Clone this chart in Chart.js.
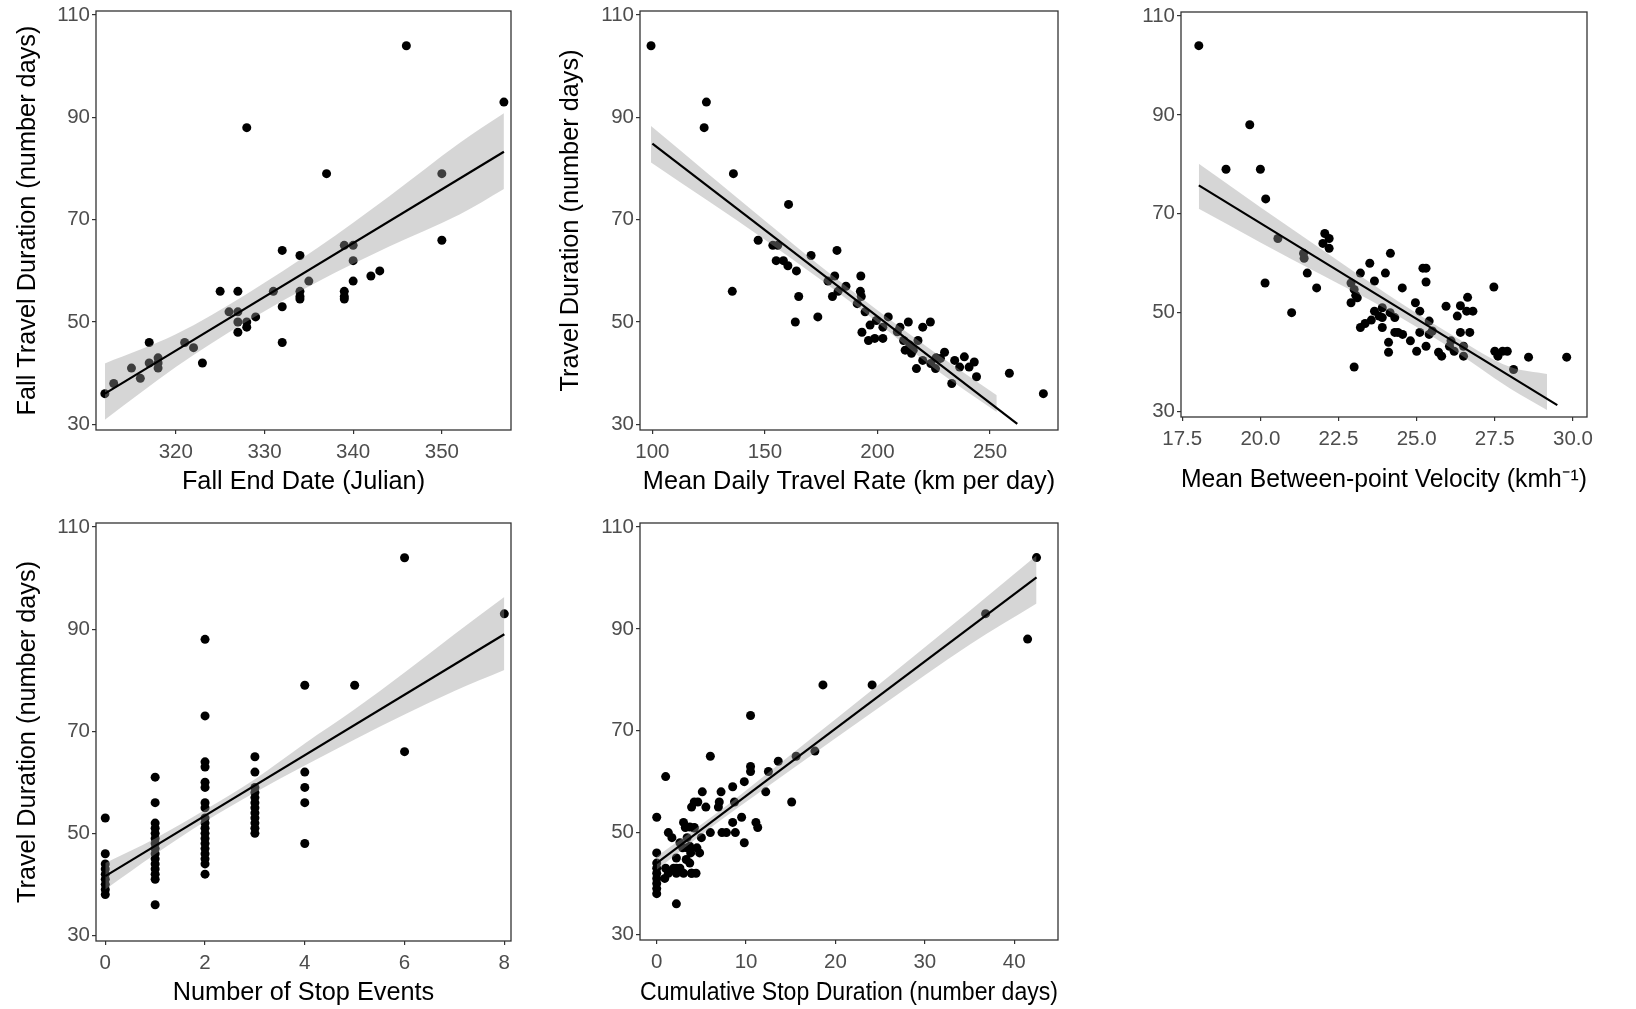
<!DOCTYPE html>
<html>
<head>
<meta charset="utf-8">
<title>Travel duration</title>
<script src="https://cdn.jsdelivr.net/npm/chart.js@4.4.1/dist/chart.umd.min.js"></script>
<style>
    body { margin: 0; background: #ffffff; }
    #wrap { position: relative; width: 1636px; height: 1009px; background: #ffffff; }
    canvas { position: absolute; }
</style>
</head>
<body>
<div id="wrap">
    <canvas id="c1" width="540" height="500" style="left:0px;top:0px"></canvas>
    <canvas id="c2" width="540" height="500" style="left:540px;top:0px"></canvas>
    <canvas id="c3" width="556" height="500" style="left:1080px;top:0px"></canvas>
    <canvas id="c4" width="540" height="509" style="left:0px;top:500px"></canvas>
    <canvas id="c5" width="540" height="509" style="left:540px;top:500px"></canvas>
</div>
<script>
// shared y axis
const durationTicks = [30, 50, 70, 90, 110];

// fall end date (julian) vs fall travel duration
const endDate = [312, 313, 315, 316, 317, 317, 318, 318, 318, 321,
    322, 323, 325, 326, 327, 327, 327, 327, 328, 328,
    328, 329, 331, 332, 332, 332, 334, 334, 334, 334,
    335, 337, 339, 339, 339, 339, 340, 340, 340, 342,
    343, 346, 350, 350, 357];
const endDateDays = [36, 38, 41, 39, 46, 42, 43, 42, 41, 46,
    45, 42, 56, 52, 56, 52, 50, 48, 88, 50,
    49, 51, 56, 64, 53, 46, 63, 56, 55, 54.5,
    58, 79, 65, 56, 55, 54.5, 65, 62, 58, 59,
    60, 104, 79, 66, 93];
const endDateFitX = [312, 357];
const endDateFitY = [36.0, 83.3];
const endDateBandX = [312, 320, 328, 336, 344, 352, 357];
const endDateBandHi = [41.9, 47.6, 55.5, 64.5, 74.5, 85.0, 90.8];
const endDateBandLo = [30.9, 41.2, 50.1, 57.9, 64.7, 71.0, 76.0];
const endDateTicks = [320, 330, 340, 350];

// mean daily travel rate
const travelRate = [99.4, 124, 123, 136, 135.5, 147, 153.5, 155.7, 155, 158.2,
    160.5, 160.2, 164, 165, 163.5, 170.5, 173.5, 182, 178, 181,
    180, 182.5, 186, 192.6, 192.4, 192.8, 191, 194.5, 196.7, 199.5,
    202.4, 204.8, 193.1, 196, 198.8, 202.4, 208.8, 213.7, 211.6, 212.3,
    214.4, 215.9, 218, 215.1, 220.1, 223.5, 217.3, 220.1, 223.7, 225.8,
    229.8, 228, 234.3, 238.6, 236.5, 240.7, 243, 244, 233, 258.6,
    273.7, 210, 226];
const travelRateDays = [104, 93, 88, 79, 56, 66, 65, 65, 62, 62,
    73, 61, 60, 55, 50, 63, 51, 64, 58, 59,
    55, 56, 57, 59, 56, 55, 53.6, 52, 49.4, 50.3,
    49, 51, 48, 46.4, 46.8, 46.8, 48.1, 50, 46.4, 44.5,
    45.5, 44.5, 46.4, 43.9, 49, 50, 40.9, 42.5, 41.9, 40.9,
    44.1, 42.9, 42.5, 43.2, 41.2, 41.2, 42.2, 39.3, 38, 40,
    36, 49, 43];
const travelRateFitX = [100, 262.1];
const travelRateFitY = [84.9, 30.1];
const travelRateBandX = [99.4, 125, 150, 175, 200, 225, 253];
const travelRateBandHi = [88.3, 78.9, 69.8, 60.8, 52.3, 44.2, 35.7];
const travelRateBandLo = [81.2, 73.6, 66.1, 58.2, 49.9, 41.0, 32.4];
const travelRateTicks = [100, 150, 200, 250];

// mean between-point velocity
const velocity = [18.03, 18.9, 19.66, 20.0, 20.17, 20.15, 20.56, 21.0, 21.38, 21.4,
    21.5, 21.8, 22.06, 22.0, 22.2, 22.2, 22.9, 22.9, 23.0, 23.05,
    23.1, 23.2, 23.0, 23.2, 23.35, 23.5, 23.55, 23.65, 23.65, 23.8,
    23.9, 23.9, 24.0, 23.9, 24.1, 24.1, 24.16, 24.15, 24.3, 24.3,
    24.4, 24.55, 24.54, 24.8, 24.96, 25.1, 25.0, 25.1, 25.2, 25.3,
    25.3, 25.3, 25.4, 25.4, 25.5, 25.7, 25.8, 25.94, 26.05, 26.1,
    26.2, 26.3, 26.4, 26.4, 26.5, 26.5, 26.63, 26.6, 26.7, 26.8,
    27.47, 27.5, 27.6, 27.75, 27.9, 28.1, 28.58, 29.8];
const velocityDays = [104, 79, 88, 79, 73, 56, 65, 50, 62, 61,
    58, 55, 66, 64, 65, 63, 56, 52, 54.7, 53.5,
    53, 58, 39, 47, 47.8, 60, 48.5, 56.4, 50.3, 49.3,
    47, 49, 58, 51, 44, 42, 62, 50, 49, 46,
    46, 45.6, 55, 44.3, 52, 50.3, 42.2, 46, 59, 59,
    56.2, 43.2, 45.6, 48.3, 46.3, 42, 41.2, 51.3, 43.2, 44.3,
    42.2, 49.3, 51.4, 46, 43.2, 41.2, 53.1, 50.3, 46, 50.3,
    55.2, 42.2, 41.2, 42.2, 42.2, 38.5, 41, 41];
const velocityFitX = [18.03, 29.5];
const velocityFitY = [75.75, 31.3];
const velocityBandX = [18.03, 20, 22, 24, 26, 28, 29.17];
const velocityBandHi = [80.1, 71.3, 62.6, 54.0, 46.0, 39.0, 37.6];
const velocityBandLo = [71.0, 64.2, 57.5, 50.8, 43.2, 34.6, 30.3];
const velocityTicks = [17.5, 20, 22.5, 25, 27.5, 30];
const velocityLabels = ["17.5", "20.0", "22.5", "25.0", "27.5", "30.0"];

// number of stop events
const stopEvents = [0, 0, 0, 0, 0, 0, 0, 0, 0,
    1, 1, 1, 1, 1, 1, 1, 1, 1, 1, 1, 1, 1, 1, 1,
    2, 2, 2, 2, 2, 2, 2, 2, 2, 2, 2, 2, 2, 2, 2, 2, 2, 2, 2,
    3, 3, 3, 3, 3, 3, 3, 3, 3, 3, 3, 3,
    4, 4, 4, 4, 4,
    5,
    6, 6,
    8];
const stopEventsDays = [53, 46, 44, 43, 42, 41, 40, 39, 38,
    61, 56, 52, 51, 50, 49, 48, 47, 46, 45, 44, 43, 42, 41, 36,
    88, 73, 64, 63, 60, 59, 56, 55, 53, 52, 51, 50, 49, 48, 47, 46, 45, 44, 42,
    65, 62, 59, 58, 57, 56, 55, 54, 53, 52, 51, 50,
    79, 62, 59, 56, 48,
    79,
    104, 66,
    93];
const stopEventsFitX = [0, 8];
const stopEventsFitY = [41.6, 89.0];
const stopEventsBandX = [0, 1, 2, 3, 4, 5, 6, 7, 8];
const stopEventsBandHi = [44.2, 49.0, 54.6, 60.6, 67.6, 74.3, 81.5, 89.0, 96.3];
const stopEventsBandLo = [39.0, 45.9, 52.3, 58.0, 63.3, 68.4, 73.3, 77.9, 82.0];
const stopEventsTicks = [0, 2, 4, 6, 8];

// cumulative stop duration
const stopDuration = [42.5, 41.5, 36.8, 24.1, 18.6, 17.7, 15.6, 15.1, 13.6, 12.5,
    12.2, 10.5, 10.5, 10.5, 11.1, 11.3, 9.8, 9.5, 9.8, 8.5,
    8.7, 8.5, 8.8, 7.8, 7.3, 7.2, 7.0, 6.9, 6.0, 6.0,
    5.1, 5.5, 5.0, 4.8, 4.5, 4.2, 3.9, 4.2, 3.9, 3.7,
    3.8, 3.4, 3.4, 3.0, 3.2, 3.0, 2.6, 2.2, 2.2, 1.9,
    1.7, 1.3, 1.0, 1.3, 0.9, 0, 0, 0, 0, 0,
    0, 0, 0, 0, 1.0, 2.2, 2.2, 3.9, 4.4, 3.7,
    4.2, 2.6, 2.9, 3.3, 3.7, 4.6];
const stopDurationDays = [104, 88, 93, 79, 79, 66, 65, 56, 64, 62,
    58, 73, 63, 62, 52, 51, 60, 53, 48, 59,
    56, 52, 50, 50, 50, 58, 56, 55, 50, 65,
    58, 55, 49, 46, 47, 56, 55, 51, 42, 44,
    46, 47, 49, 52, 51, 42, 43, 36, 45, 43,
    49, 50, 61, 42, 41, 53, 46, 44, 43, 42,
    41, 40, 39, 38, 43, 43, 42, 42, 42, 51.1,
    50.9, 48, 47, 44.7, 47.3, 56];
const stopDurationFitX = [0, 42.5];
const stopDurationFitY = [44.0, 100.1];
const stopDurationBandX = [0, 7, 15, 25, 35, 42.5];
const stopDurationBandHi = [45.3, 54.2, 65.3, 79.3, 93.5, 104.4];
const stopDurationBandLo = [42.7, 52.2, 62.3, 74.7, 86.9, 95.0];
const stopDurationTicks = [0, 10, 20, 30, 40];

Chart.defaults.font.family = "\"Liberation Sans\", Arial, sans-serif";

function toPoints(xs, ys) {
    return xs.map((x, i) => ({x: x, y: ys[i]}));
}

// dark frame round each plotting area
const panelFrame = {
    id: "panelFrame",
    afterDatasetsDraw(chart) {
        const a = chart.chartArea;
        const ctx = chart.ctx;
        ctx.save();
        ctx.strokeStyle = "#333333";
        ctx.lineWidth = 1.3;
        ctx.strokeRect(a.left, a.top, a.right - a.left, a.bottom - a.top);
        ctx.restore();
    }
};

const panels = [
    {canvas: "c1", x: endDate, y: endDateDays, fitX: endDateFitX, fitY: endDateFitY,
        bandX: endDateBandX, bandHi: endDateBandHi, bandLo: endDateBandLo,
        xTicks: endDateTicks, xLabels: endDateTicks.map(String), xMin: 311.0, xMax: 357.8,
        xTitle: "Fall End Date (Julian)", yTitle: "Fall Travel Duration (number days)",
        yWidth: 96, xHeight: 70, padTop: 11, padRight: 29, xTitlePad: 2.8, yTitlePad: 13},
    {canvas: "c2", x: travelRate, y: travelRateDays, fitX: travelRateFitX, fitY: travelRateFitY,
        bandX: travelRateBandX, bandHi: travelRateBandHi, bandLo: travelRateBandLo,
        xTicks: travelRateTicks, xLabels: travelRateTicks.map(String), xMin: 94.5, xMax: 280.2,
        xTitle: "Mean Daily Travel Rate (km per day)", yTitle: "Travel Duration (number days)",
        yWidth: 100, xHeight: 70, padTop: 11, padRight: 22, xTitlePad: 2.8, yTitlePad: 15.6},
    {canvas: "c3", x: velocity, y: velocityDays, fitX: velocityFitX, fitY: velocityFitY,
        bandX: velocityBandX, bandHi: velocityBandHi, bandLo: velocityBandLo,
        xTicks: velocityTicks, xLabels: velocityLabels, xMin: 17.46, xMax: 30.45,
        xTitle: "Mean Between-point Velocity (kmh\u207B\u00B9)", yTitle: "",
        yWidth: 101, xHeight: 83, padTop: 12, padRight: 49, xTitlePad: 4.8, yTitlePad: 13},
    {canvas: "c4", x: stopEvents, y: stopEventsDays, fitX: stopEventsFitX, fitY: stopEventsFitY,
        bandX: stopEventsBandX, bandHi: stopEventsBandHi, bandLo: stopEventsBandLo,
        xTicks: stopEventsTicks, xLabels: stopEventsTicks.map(String), xMin: -0.186, xMax: 8.134,
        xTitle: "Number of Stop Events", yTitle: "Travel Duration (number days)",
        yWidth: 96, xHeight: 68, padTop: 23, padRight: 29, xTitlePad: 1.1, yTitlePad: 13},
    {canvas: "c5", x: stopDuration, y: stopDurationDays, fitX: stopDurationFitX, fitY: stopDurationFitY,
        bandX: stopDurationBandX, bandHi: stopDurationBandHi, bandLo: stopDurationBandLo,
        xTicks: stopDurationTicks, xLabels: stopDurationTicks.map(String), xMin: -1.87, xMax: 44.9,
        xTitle: "Cumulative Stop Duration (number days)", yTitle: "",
        yWidth: 100, xHeight: 69, padTop: 23, padRight: 22, xTitlePad: 1.1, yTitlePad: 13}
];

function initPanel(p) {
    const ctx = document.getElementById(p.canvas).getContext("2d");
    return new Chart(ctx, {
        type: "line",
        data: {
            datasets: [{
                // fitted line, drawn on top
                data: toPoints(p.fitX, p.fitY),
                borderColor: "#000000",
                borderWidth: 2.2,
                pointRadius: 0,
                fill: false
            },
            {
                data: toPoints(p.bandX, p.bandHi),
                borderColor: "rgba(0,0,0,0)",
                pointRadius: 0,
                cubicInterpolationMode: "monotone",
                backgroundColor: "rgba(153,153,153,0.4)",
                fill: "+1"
            },
            {
                data: toPoints(p.bandX, p.bandLo),
                borderColor: "rgba(0,0,0,0)",
                pointRadius: 0,
                cubicInterpolationMode: "monotone",
                fill: false
            },
            {
                data: toPoints(p.x, p.y),
                showLine: false,
                pointRadius: 4.5,
                pointBackgroundColor: "#000000",
                pointBorderWidth: 0
            }]
        },
        options: {
            responsive: false,
            animation: false,
            events: [],
            layout: {
                padding: {top: p.padTop, right: p.padRight, left: 0, bottom: 0}
            },
            plugins: {
                legend: {display: false},
                tooltip: {enabled: false}
            },
            scales: {
                x: {
                    type: "linear",
                    min: p.xMin,
                    max: p.xMax,
                    afterBuildTicks: (s) => { s.ticks = p.xTicks.map(v => ({value: v})); },
                    afterFit: (s) => {
                        s.height = p.xHeight;
                        s.paddingLeft = 0;
                        s.paddingRight = 0;
                    },
                    grid: {drawOnChartArea: false, tickLength: 4, color: "#333333", lineWidth: 1.2},
                    border: {display: false},
                    ticks: {
                        padding: 6,
                        color: "#4d4d4d",
                        font: {size: 20.5},
                        maxRotation: 0,
                        autoSkip: false,
                        callback: (v, i) => p.xLabels[i]
                    },
                    title: {
                        display: true,
                        text: p.xTitle,
                        color: "#000000",
                        font: {size: 25.3},
                        padding: {top: 0, bottom: p.xTitlePad}
                    }
                },
                y: {
                    type: "linear",
                    min: 28.9,
                    max: 110.8,
                    afterBuildTicks: (s) => { s.ticks = durationTicks.map(v => ({value: v})); },
                    afterFit: (s) => {
                        s.width = p.yWidth;
                        s.paddingTop = 0;
                        s.paddingBottom = 0;
                    },
                    grid: {drawOnChartArea: false, tickLength: 4, color: "#333333", lineWidth: 1.2},
                    border: {display: false},
                    ticks: {
                        padding: 2,
                        color: "#4d4d4d",
                        font: {size: 20.5},
                        autoSkip: false
                    },
                    title: {
                        display: p.yTitle !== "",
                        text: p.yTitle,
                        color: "#000000",
                        font: {size: 25.3},
                        padding: {top: p.yTitlePad, bottom: 0}
                    }
                }
            }
        },
        plugins: [panelFrame]
    });
}

panels.forEach(initPanel);
</script>
</body>
</html>
